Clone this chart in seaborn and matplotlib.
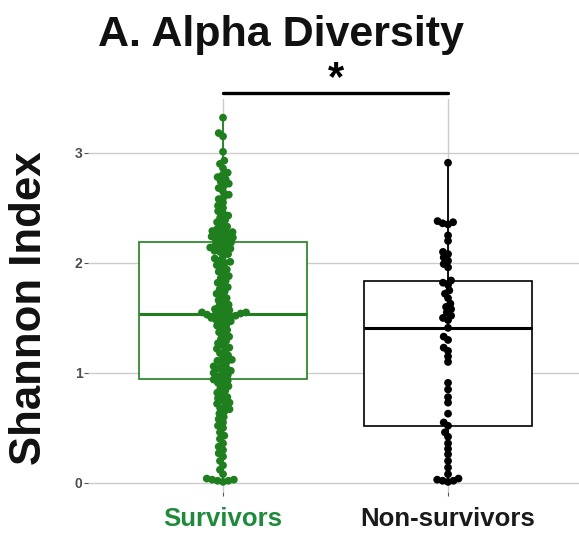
import matplotlib
matplotlib.use("Agg")
import matplotlib.pyplot as plt
import seaborn as sns
import pandas as pd

groups = ["Survivors", "Non-survivors"]

survivors = [
    0.01, 0.02, 0.02, 0.03, 0.03, 0.04, 0.08, 0.12, 0.16, 0.20, 0.24, 0.27, 0.30, 0.33,
    0.36, 0.40, 0.43, 0.46, 0.50, 0.52, 0.55, 0.58, 0.60, 0.63, 0.65, 0.67, 0.68, 0.70,
    0.72, 0.73, 0.75, 0.77, 0.78, 0.80, 0.82, 0.84, 0.86, 0.88, 0.90, 0.91, 0.93, 0.94,
    0.955, 0.97, 0.98, 1.00, 1.01, 1.02, 1.04, 1.05, 1.06, 1.08, 1.10, 1.11, 1.12, 1.14,
    1.16, 1.18, 1.20, 1.22, 1.23, 1.25, 1.27, 1.29, 1.31, 1.33, 1.35, 1.37, 1.39, 1.41,
    1.43, 1.44, 1.46, 1.47, 1.48, 1.49, 1.50, 1.51, 1.52, 1.52, 1.53, 1.53, 1.54, 1.54,
    1.55, 1.55, 1.56, 1.57, 1.58, 1.59, 1.61, 1.62, 1.64, 1.66, 1.68, 1.70, 1.72, 1.74,
    1.76, 1.78, 1.80, 1.82, 1.84, 1.86, 1.88, 1.90, 1.92, 1.94, 1.96, 1.98, 2.00, 2.01,
    2.02, 2.04, 2.06, 2.08, 2.10, 2.11, 2.12, 2.13, 2.14, 2.15, 2.16, 2.17, 2.185,
    2.20, 2.21, 2.22, 2.23, 2.24, 2.25, 2.26, 2.27, 2.28, 2.29, 2.30, 2.31, 2.33, 2.35,
    2.37, 2.39, 2.41, 2.43, 2.45, 2.47, 2.50, 2.52, 2.55, 2.58, 2.60, 2.62, 2.65, 2.68,
    2.70, 2.72, 2.74, 2.76, 2.78, 2.80, 2.82, 2.86, 2.90, 2.93, 3.01, 3.15, 3.18, 3.32,
]

non_survivors = [
    0.01, 0.02, 0.02, 0.03, 0.04, 0.08, 0.14, 0.20, 0.26, 0.31, 0.36, 0.42, 0.46,
    0.52,
    0.55, 0.63, 0.73, 0.78, 0.85, 0.91, 1.10, 1.15, 1.20, 1.23, 1.30, 1.33,
    1.41,
    1.48, 1.50, 1.52, 1.55, 1.58, 1.60, 1.63, 1.68, 1.72, 1.75, 1.80, 1.82,
    1.84,
    1.96, 1.99, 2.02, 2.05, 2.08, 2.10, 2.20, 2.25, 2.35, 2.36, 2.37, 2.38, 2.91,
]

y_ticks = [0, 1, 2, 3]
title = "A. Alpha Diversity"
y_label = "Shannon Index"
sig_label = "*"

df = pd.DataFrame({
    "group": [groups[0]] * len(survivors) + [groups[1]] * len(non_survivors),
    "shannon": survivors + non_survivors,
})

GREEN = "#1f7f1f"
GREEN_TXT = "#1f8a3b"
palette = {groups[0]: GREEN, groups[1]: "black"}

sns.set_theme(style="white")
plt.rcParams["font.family"] = ["Liberation Sans", "DejaVu Sans"]

fig = plt.figure(figsize=(5.79, 5.35), dpi=100)
ax = fig.add_axes([0.152, 0.0804, 0.855, 0.7346])

for i, g in enumerate(groups):
    col = palette[g]
    sns.boxplot(data=df[df.group == g], x="group", y="shannon", order=groups,
                ax=ax, width=0.75, showfliers=False, showcaps=False,
                fill=True, color="white", linewidth=1.2,
                boxprops=dict(edgecolor=col, facecolor="white", zorder=2),
                whiskerprops=dict(color=col, linewidth=1.3, zorder=2),
                medianprops=dict(color=col, linewidth=2.2, zorder=2))

n_before = len(ax.collections)
sns.swarmplot(data=df, x="group", y="shannon", hue="group", order=groups,
              palette=palette, size=3.8, ax=ax, legend=False, zorder=3)
ax.set_xlim(-0.6, 1.6)
ax.set_ylim(-0.082, 3.49)
fig.canvas.draw()
# freeze the swarm layout, then enlarge dots so they overlap like the reference
for coll in ax.collections[n_before:]:
    if "draw" in coll.__dict__:
        del coll.__dict__["draw"]
    coll.set_sizes([5.6 ** 2])

ax.set_yticks(y_ticks)
ax.set_yticklabels([str(t) for t in y_ticks])
ax.grid(True, color="#cccccc", linewidth=1.0, zorder=0)
ax.set_axisbelow(True)
for s in ax.spines.values():
    s.set_visible(False)
ax.tick_params(axis="both", which="both", length=3, width=0.8, color="#555555",
               left=True, bottom=True)
ax.tick_params(axis="y", labelsize=10, labelcolor="#4d4d4d", pad=1)
ax.tick_params(axis="x", labelsize=18.5, pad=8)
for lab in ax.get_yticklabels():
    lab.set_fontweight("bold")
xl = ax.get_xticklabels()
for lab, c in zip(xl, [GREEN_TXT, "#1a1a1a"]):
    lab.set_fontweight("bold")
    lab.set_color(c)
ax.set_xlabel("")
ax.set_ylabel("")

# significance bar
ax.plot([0, 1], [3.545, 3.545], color="black", linewidth=2.4, clip_on=False,
        solid_capstyle="round", zorder=5)
ax.text(0.5, 3.575, sig_label, ha="center", va="baseline", fontsize=30,
        fontweight="bold", color="black", clip_on=False)

fig.text(280.5 / 579, 1 - 46 / 535, title, ha="center", va="baseline",
         fontsize=31, fontweight="bold", color="#111111")
fig.text(30 / 579, 1 - 308 / 535, y_label, ha="center", va="center",
         rotation=90, fontsize=31.5, fontweight="bold", color="#111111")

fig.savefig("out.png", dpi=100)
